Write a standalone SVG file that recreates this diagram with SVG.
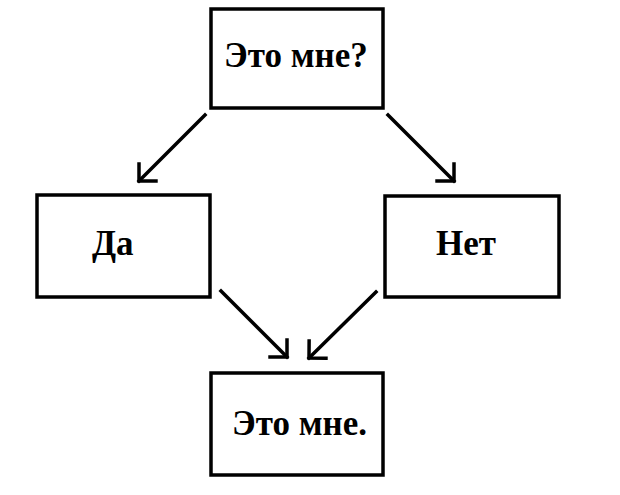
<svg xmlns="http://www.w3.org/2000/svg" width="620" height="495" viewBox="0 0 620 495">
<style>
.box{fill:#fff;stroke:#000;stroke-width:3.5}
.lbl{font-family:"Liberation Serif","Times New Roman",serif;font-weight:bold;font-size:35px;fill:#000}
.edge{stroke:#000;stroke-width:3.5;fill:none;stroke-linecap:square}
</style>
<defs>
<marker id="ah" markerUnits="userSpaceOnUse" markerWidth="30" markerHeight="30" viewBox="-15 -15 30 30" refX="0" refY="0" orient="auto">
<path d="M-12,-12 L0,0 L-12,12" fill="none" stroke="#000" stroke-width="3.5" stroke-linecap="square"/>
</marker>
</defs>
<rect width="620" height="495" fill="#fff"/>
<g id="connectors">
<line class="edge" x1="205" y1="115" x2="139" y2="181" marker-end="url(#ah)"/>
<line class="edge" x1="388" y1="115" x2="454" y2="181" marker-end="url(#ah)"/>
<line class="edge" x1="221" y1="291" x2="287" y2="357" marker-end="url(#ah)"/>
<line class="edge" x1="376" y1="292" x2="309" y2="358" marker-end="url(#ah)"/>
</g>
<g id="n-top">
<rect class="box" x="211" y="9" width="172" height="99"/>
<text class="lbl" x="224" y="67">Это мне?</text>
</g>
<g id="n-da">
<rect class="box" x="37" y="195" width="173" height="102"/>
<text class="lbl" x="92" y="255">Да</text>
</g>
<g id="n-net">
<rect class="box" x="385" y="196" width="174" height="101"/>
<text class="lbl" x="436" y="255">Нет</text>
</g>
<g id="n-bottom">
<rect class="box" x="211" y="373" width="172" height="102"/>
<text class="lbl" x="232" y="435">Это мне.</text>
</g>
</svg>
